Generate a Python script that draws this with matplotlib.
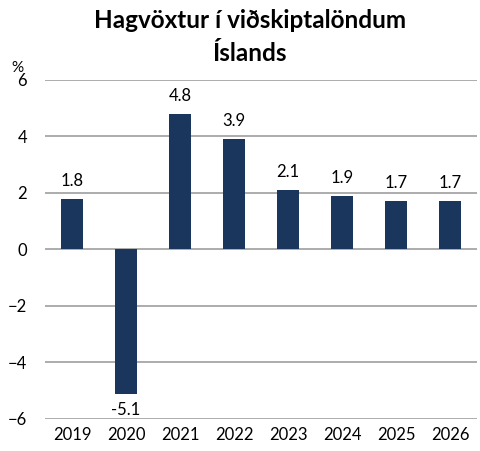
import matplotlib.pyplot as plt

plt.rcParams['font.family'] = ['Lato', 'DejaVu Sans']

years = ['2019', '2020', '2021', '2022', '2023', '2024', '2025', '2026']
growth = [1.8, -5.1, 4.8, 3.9, 2.1, 1.9, 1.7, 1.7]
labels = ['1.8', '-5.1', '4.8', '3.9', '2.1', '1.9', '1.7', '1.7']

fig = plt.figure(figsize=(4.8, 4.51), dpi=100)
ax = fig.add_axes([0.094, 0.071, 0.9, 0.752])

x = range(len(years))
ax.bar(x, growth, width=0.4, color='#1b365d', zorder=3)

for i, (v, t) in enumerate(zip(growth, labels)):
    if v >= 0:
        ax.text(i, v + 0.35, t, ha='center', va='bottom', fontsize=12)
    else:
        ax.text(i, v - 0.3, t, ha='center', va='top', fontsize=12)

ax.set_xlim(-0.5, 7.5)
ax.set_ylim(-6, 6)
ax.set_yticks([-6, -4, -2, 0, 2, 4, 6])
ax.set_xticks(list(x))
ax.set_xticklabels(years)
ax.grid(axis='y', color='#a6a6a6', linewidth=1.3, zorder=0)
ax.tick_params(length=0, labelsize=12, pad=6)
ax.tick_params(axis='y', pad=13)
for s in ax.spines.values():
    s.set_visible(False)

ax.text(-0.065, 1.015, '%', transform=ax.transAxes, ha='center', va='bottom', fontsize=11)
fig.text(0.52, 0.98, 'Hagvöxtur í viðskiptalöndum\nÍslands', ha='center', va='top',
         fontsize=17.5, fontweight='bold', linespacing=1.5)

fig.savefig('out.png', dpi=100)
